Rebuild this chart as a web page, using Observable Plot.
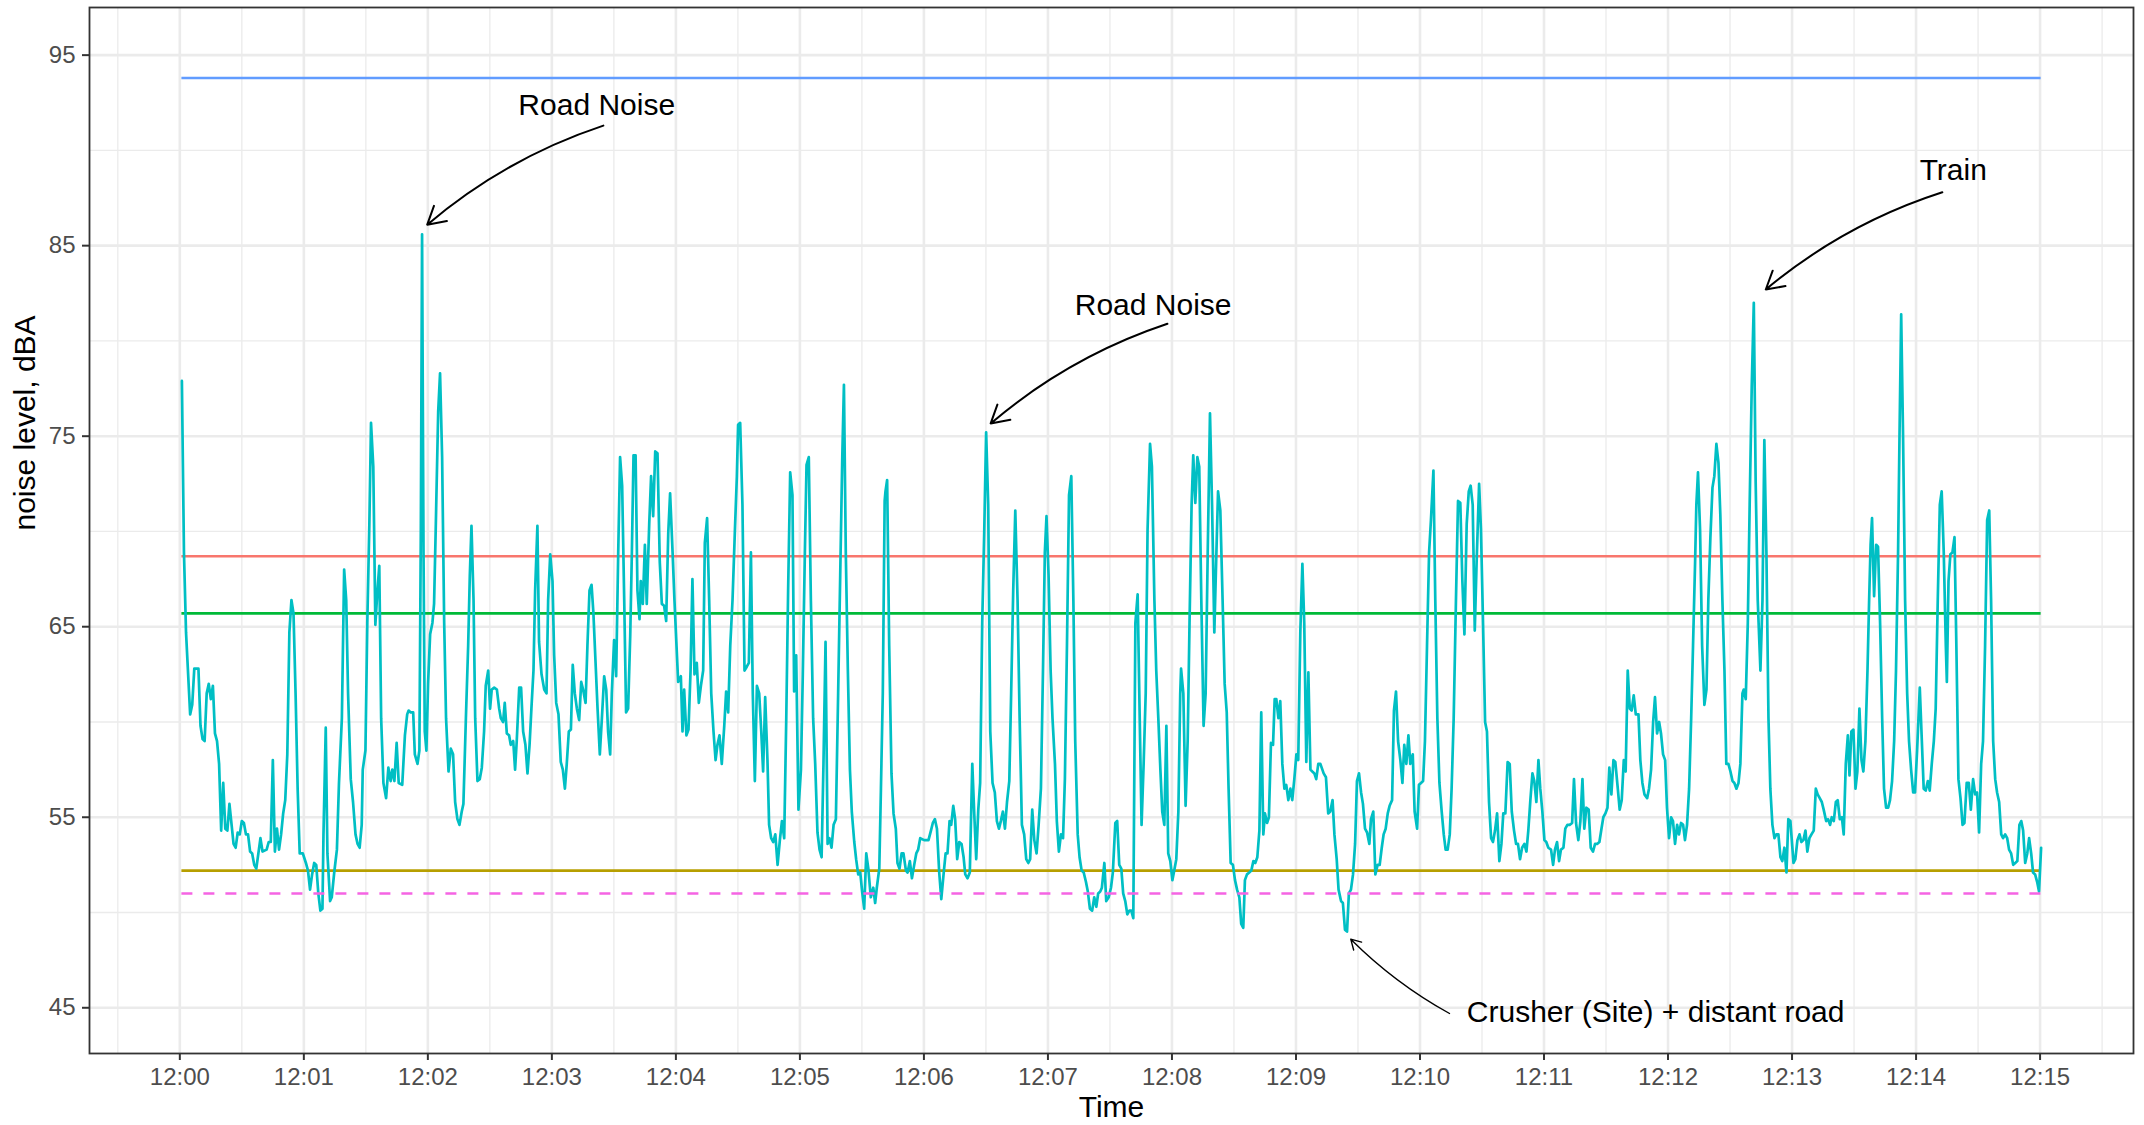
<!DOCTYPE html>
<html>
<head>
<meta charset="utf-8">
<script src="https://cdn.jsdelivr.net/npm/d3@7"></script>
<script src="https://cdn.jsdelivr.net/npm/@observablehq/plot@0.6"></script>
<style>
  html, body { margin: 0; padding: 0; background: #ffffff; }
  #chart svg { display: block; }
</style>
</head>
<body>
<div id="chart"></div>
<script>
// ---- data: seconds after 12:00:00 and measured noise level (dBA) ----
const secs = [
1,2,3,5,6,7,9,10,11,12,13,14,15,16,17,18,19,20,21,22,23,24,26,27,28,29,30,31,32,33,34,35,36,37,39,40,42,43,44,45,46,47,48,49,50,51,52,53,54,55,56,57,58,59.5,61,62,63,64,65,66,67,68,69,69.5,70.6,71.4,72.7,73.5,74.7,76,77,78.4,79.5,80.5,81.4,82.7,83.8,85,86,87,88,88.5,89.8,90.7,91.7,92.5,93.6,94.6,95.6,96.5,97.4,98.5,99.8,100.9,102,102.8,103.8,104.9,105.9,107.6,108.9,110,110.7,
111.7,112.9,113.7,115,115.9,116.6,117.2,117.9,118.5,119.3,120.1,121.1,122.2,123,123.8,125,125.9,126.9,127.9,128.8,130,131.1,132.2,133.2,134.3,135.3,136.4,137.2,138.4,139.5,140.3,141.1,142.1,142.9,144,145.1,146.1,147.2,148,149.2,150.1,150.9,152.1,153.4,154.5,155.3,156.4,157.2,158.2,159.3,160.1,161.3,162.2,163,164.2,165.1,166.1,167.2,168.2,169.2,170.1,171.1,171.9,173,173.8,175,176.3,177.4,178.2,179.2,180.3,181.1,182.1,183.2,184.3,185.3,186.3,187.2,188.2,189.2,190.1,191.1,192.1,193.2,194.2,195.1,196.3,197.2,198.2,199.2,200.1,201.1,202.1,203.2,204.2,205.3,206.3,207.2,208.2,209,210.1,211.1,212.1,213,214,215,215.9,216.9,217.9,218.7,219.5,220.5,221.4,222.4,223,
224,225,225.9,227.1,228,229,230,231.1,232.2,233.2,234.3,235.3,236.3,237.2,238.4,239.3,240.3,241.1,242.4,243.2,244,245.1,246.1,247.1,248,249,250.1,251.1,252.1,253.2,254,255.1,256.1,257.1,258.2,259.2,260.1,261.1,262.2,263.4,264.3,265.3,266.3,267.4,268.5,269.5,270.1,271.1,272.2,273.2,274.3,275.3,276.3,277.2,278.2,279.2,280.3,281.3,282.2,283.2,284.3,285.1,286.1,287.1,288.1,289.2,290.3,291.3,292.4,293.4,294.3,295.3,296.4,297.2,298.2,299.3,300.5,301.4,302.4,303.2,304.3,305.3,306.4,307.4,308.5,309.5,310.5,311.4,312.4,313.4,314.3,315.3,316.3,317.4,318.5,319.5,320.5,321.3,322.2,323.2,324.2,325.1,326.3,327.2,328.2,329.2,330.1,331.1,332.1,333.1,
334.3,335.5,336.4,337.2,338.4,339.2,340.1,341,341.4,342.2,343.2,344.3,345.3,346.4,347.2,348.2,349.2,350.1,351.3,352.1,353.2,354.2,355.3,356.3,357.2,358.2,360.1,362.2,363.4,364.3,365.3,366.3,367.4,368.4,369.5,370.5,371.4,372.4,373.2,374.2,375.1,376.1,377.1,378.2,379.2,380,381.1,382.2,383.4,384.3,385.3,386.3,387.2,388.2,389.2,390.1,391.1,392.1,393.2,394.3,395.3,396.3,397.2,398.2,399.2,400.2,401.3,402.2,403.2,404.2,405.3,406.3,407.4,408.5,409.5,410.5,411.4,412.4,413.4,414.5,415.5,416.6,417.6,418.5,419.3,420.3,421.3,422.2,423.4,424.3,425.3,426.3,427.3,428.2,429.2,430.2,431.3,432.3,433.2,434.4,435.3,436.3,437.3,438.4,439.3,440.3,441.4,442.4,443.4,444.3,445.3,
446.1,447.3,448.2,449.4,450.5,451.4,452.6,453.5,454.5,455.5,456.4,457.4,458.4,459.4,460.3,461.3,462.3,463.4,464.4,465.3,466.3,467.3,468.2,469.4,470.3,471.5,472.4,473.4,474.4,475.3,476.3,477.3,478.2,479.2,480.2,481.1,482.1,483.1,484,484.4,485.5,486.6,487.6,488.5,489.5,490.3,491.3,492.3,493.2,494.2,495.3,496.3,497.3,498.4,499.4,500.5,501.5,502.3,503.4,504.5,505.5,506.5,507.4,508.4,509.5,510.5,511.5,512.6,513.5,514.5,515.3,516.3,517.4,518.4,519.4,520.3,521.3,522.3,523.2,524.2,525,526,526.9,527.9,528.9,529.7,530.5,531.5,532.4,533.4,534.4,535.3,536.3,537.3,538.2,539.2,540.2,541.1,542.1,543.1,544,545,546,547,547.9,548.9,549.8,550.8,551.8,
553.4,554.5,555.6,556.6,557.7,558.6,559.7,560.6,561.8,562.7,563.7,564.7,565.6,566.6,567.6,568.6,569.5,570.5,571.5,572.4,573.4,574.4,575.5,576.3,577.4,578.4,579.5,580.5,581.5,582.4,583.4,584.4,585.3,586.5,587.4,588.4,589.4,590.5,591.5,592.4,593.4,594.4,595.3,596.5,597.4,598.6,599.5,600.5,601.5,602.4,603.4,604.4,605.3,606.5,607.4,608.4,609.4,610.5,611.5,612.4,613.4,614.4,615.3,616.3,617.4,618.4,619.5,620.5,621.5,622.6,623.6,624.5,625.5,626.5,627.4,628.6,629.5,630.5,631.5,632.4,633.4,634.4,635.3,636.3,637.3,638.4,639.4,640.3,641.3,642.4,643.4,644.4,645.5,646.5,647.4,648.4,649.4,650.5,651.5,652.4,653.4,654.4,655.3,656.3,657.3,658.2,659.2,660.2,661.1,662.1,663.4,664.4,665.3,666.3,667.3,668.2,
669.4,670.3,671.3,672.4,673.6,674.5,675.5,676.6,677.6,678.6,679.5,680.5,681.6,682.6,683.7,684.7,685.7,686.8,687.8,688.7,689.7,690.7,691.6,692.6,693.6,694.5,695.7,696.6,697.6,698.6,699.5,700.5,701.5,702.4,703.4,704.4,705.7,706.6,707.6,708.6,709.9,710.8,711.8,712.8,713.7,714.7,715.7,716.6,717.6,718.6,719.5,720.5,721.5,722.4,723.4,724.4,725.3,726.3,727.3,728.2,729.2,730.2,731.2,732.1,733.1,733.7,734.5,735.5,736.5,737.6,738.6,739.5,740.5,741.5,742.4,743.4,744.4,745.3,746.3,747.3,748.2,749.2,750.2,751.2,752.1,753.1,754.1,755,756,756.6,757.6,758.6,759.5,760.5,761.5,762.4,763.4,764.7,765.7,766.6,767.6,768.6,769.5,770.5,771.5,772.4,773.4,774.4,775.3,776.3,777.3,778.2,779.2,
780.7,781.6,782.6,783.6,784.5,785.5,786.5,787.4,788.4,789.4,790.5,791.5,792.4,793.4,794.4,795.3,796.5,797.4,798.4,799.2,800.2,801.2,802.1,803.1,804.1,805,806,807,807.8,808.7,809.7,810.7,811.6,812.6,813.6,814.5,815.5,816.5,817.3,818,818.7,819.7,820.7,821.6,822.6,823.6,824.5,825.5,826.5,827.4,828.4,829.4,830.3,831.3,832,832.8,833.7,834.7,835.7,836.6,837.6,838.6,839.5,840.5,841.8,842.8,843.7,844.7,845.7,846.6,847.6,848.6,849.5,850.5,851.5,852.4,853.4,854.4,854.9,855.7,856.6,857.6,858.6,859.5,860.5,861.5,862.5,863.4,864.5,865.5,866.5,867.6,868.6,869.5,870.5,871.5,872.4,873.4,874.4,875.4,876.3,877.3,878.3,879.2,880.2,881.2,882.1,883.1,884.1,885,886,887,888,889,890,890.9,891.8,892.8,893.8,894.7,895.7,896.6,897.6,898.6,899.5,900.5
];
const dba = [
77.9,68.9,64.7,60.4,60.9,62.8,62.8,59.8,59.1,59.0,61.5,62.0,61.2,61.9,59.4,59.0,57.8,54.3,56.8,54.4,54.3,55.7,53.6,53.4,54.2,54.1,54.8,54.7,54.1,54.1,53.2,53.1,52.5,52.3,53.9,53.2,53.3,53.7,53.7,58.0,53.2,54.4,53.3,54.1,55.2,55.9,58.3,64.7,66.4,65.7,61.5,56.5,53.1,53.1,52.6,52.2,51.2,52.0,52.6,52.5,51.0,50.1,50.2,54.1,59.7,53.1,50.6,50.8,52.1,53.3,56.8,60.2,68.0,66.4,61.5,57.0,55.8,54.1,53.6,53.4,54.6,57.5,58.5,65.2,70.4,75.7,73.4,65.1,66.9,68.2,60.2,56.8,56.0,57.6,56.9,57.5,56.9,58.9,56.8,56.7,59.3,60.4,60.6,
60.5,60.5,58.3,57.8,58.5,70.1,85.6,68.9,59.5,58.5,62.0,64.6,65.2,66.2,70.1,76.3,78.3,73.9,65.2,60.2,57.4,58.6,58.3,55.8,54.9,54.6,55.3,55.7,60.2,64.0,67.7,70.3,66.4,60.2,56.9,57.0,57.6,59.5,61.9,62.7,60.7,61.7,61.8,61.7,60.7,60.2,60.0,61.0,59.4,59.3,58.8,59.0,57.5,59.0,61.8,61.8,59.5,58.8,57.3,58.8,60.7,62.7,66.9,70.3,64.2,62.5,61.7,61.5,66.4,68.8,67.4,63.5,61.0,60.4,57.9,57.5,56.5,57.8,59.5,59.6,63.0,61.5,60.7,60.1,62.1,61.7,61.0,64.0,66.9,67.2,65.7,63.2,60.7,58.3,60.2,62.4,61.7,59.5,58.3,61.5,64.3,62.4,68.9,73.9,72.4,66.4,60.5,60.7,64.5,68.9,74.0,74.0,66.9,65.4,67.4,
66.2,69.3,66.2,70.4,72.9,70.8,74.2,74.1,68.4,66.2,66.1,65.3,69.9,72.0,68.9,66.4,64.0,62.1,62.4,59.5,61.7,59.3,59.6,62.7,67.5,62.5,63.1,61.0,61.9,62.7,69.4,70.7,66.4,61.5,59.5,58.0,58.8,59.3,57.8,59.8,61.6,60.5,64.0,66.4,69.9,72.9,75.6,75.7,71.4,62.7,62.9,63.1,68.9,61.5,56.9,61.9,61.5,59.5,57.4,61.3,58.0,54.6,53.9,53.7,54.1,52.5,53.8,54.8,53.9,60.2,66.9,73.1,71.9,61.6,63.5,55.4,57.5,62.5,68.9,73.5,73.9,66.4,60.2,57.8,54.2,53.3,52.9,57.8,64.2,53.6,53.9,53.4,54.6,54.9,61.5,67.7,73.9,77.7,68.9,62.7,57.5,55.3,53.7,52.8,52.0,52.1,51.1,50.2,53.1,52.3,
50.8,51.3,50.5,51.3,52.3,56.5,61.5,71.6,72.1,72.7,64.0,57.3,55.2,54.4,52.6,52.3,53.1,53.1,52.2,52.1,52.7,51.8,52.5,53.1,53.3,53.9,53.8,53.8,54.3,54.7,54.9,54.4,52.1,50.7,52.0,53.1,53.1,54.8,54.6,55.6,54.9,52.8,53.7,53.6,52.9,52.0,51.8,52.1,57.8,55.3,52.8,55.4,56.8,65.2,70.1,75.2,71.4,59.5,56.8,56.3,54.8,54.4,54.8,55.3,54.4,55.8,56.9,61.5,66.9,71.1,66.4,60.2,54.6,54.1,52.8,52.6,52.8,55.4,53.8,53.1,54.6,56.5,62.7,68.9,70.8,67.7,62.7,60.2,57.8,54.8,53.2,54.1,53.9,57.0,64.0,71.9,72.9,66.4,59.0,54.1,52.9,52.2,52.1,51.6,51.1,50.2,50.1,50.8,50.3,51.0,51.1,
51.3,52.6,50.6,50.8,51.3,52.1,54.7,54.8,52.5,52.3,51.0,50.6,49.9,50.1,50.1,49.7,65.2,66.7,60.2,54.6,57.8,61.5,70.1,74.6,73.4,66.4,62.7,60.2,57.5,55.3,54.6,59.8,53.1,52.7,51.7,52.2,52.8,55.3,61.5,62.8,61.5,55.6,59.0,65.2,71.4,74.0,71.5,73.9,73.4,66.4,59.8,61.5,68.9,76.2,71.4,64.7,68.9,72.1,71.1,66.4,62.0,60.5,56.5,52.6,52.5,51.7,51.2,50.8,49.4,49.2,51.7,52.0,52.1,52.2,52.7,52.6,52.9,54.3,60.5,54.1,55.2,54.7,55.0,58.9,58.8,61.2,61.2,60.2,61.1,57.8,56.5,56.7,55.9,56.5,55.9,57.0,58.3,58.0,64.7,68.3,65.2,57.9,62.6,57.5,57.4,57.3,57.0,57.8,57.8,
57.3,57.1,55.2,55.3,55.9,54.1,52.8,51.2,50.6,50.5,49.1,49.0,51.0,51.2,52.0,53.6,56.9,57.3,56.3,55.7,54.4,54.2,53.6,54.9,55.3,52.0,52.5,52.5,53.4,54.1,54.4,55.2,55.6,55.9,60.6,61.6,59.0,58.0,56.8,58.8,57.8,59.3,57.8,58.3,55.3,54.4,56.7,56.8,56.9,59.0,64.0,68.9,70.6,73.2,66.4,60.2,56.8,55.3,54.1,53.3,53.3,54.1,56.5,60.2,66.4,71.6,71.5,67.4,64.6,70.4,72.1,72.4,71.4,64.8,68.4,72.5,70.1,65.2,60.0,59.5,55.8,53.9,53.7,54.3,55.2,52.7,53.6,55.2,55.2,57.9,57.8,55.3,54.3,53.6,53.6,52.8,53.4,53.6,53.2,54.3,55.9,57.3,56.9,55.8,58.0,56.5,55.3,53.8,53.7,53.4,53.3,52.5,53.3,53.7,52.7,53.3,
53.4,54.4,54.6,54.6,54.7,57.0,54.7,53.8,54.8,57.0,54.4,55.5,55.4,53.4,53.2,53.6,53.6,53.7,54.4,55.0,55.2,55.5,57.6,56.2,58.0,57.9,56.5,55.4,55.9,58.0,57.4,62.7,60.7,60.6,61.4,60.4,60.4,58.0,56.8,56.2,56.0,56.5,57.5,60.0,61.3,59.4,60.0,59.4,58.3,58.0,55.5,53.9,55.0,54.8,53.6,54.6,54.1,54.7,54.6,53.8,54.6,56.5,60.2,64.0,68.4,71.4,73.1,70.1,64.0,60.9,61.7,66.4,69.7,72.3,72.9,74.6,73.6,70.9,66.4,62.7,57.8,57.8,57.4,56.9,56.8,56.5,56.8,57.8,61.5,61.7,61.2,65.2,71.4,77.6,82.0,72.6,66.4,62.7,66.4,74.8,68.9,60.2,56.5,54.6,53.9,54.1,54.1,52.9,52.7,53.4,52.1,54.9,54.8,
52.6,52.8,53.8,54.1,53.7,53.8,54.3,53.2,53.9,54.1,54.3,56.5,56.2,56.0,55.8,55.4,54.8,54.9,54.6,55.0,54.8,55.8,55.9,54.9,55.0,54.1,57.8,59.3,57.2,59.5,59.6,56.5,57.4,60.7,58.0,57.4,59.0,62.7,66.4,69.3,70.7,66.6,69.3,69.2,65.2,60.2,56.5,55.5,55.5,55.9,56.9,59.0,62.7,68.9,75.1,81.4,75.1,66.4,61.5,59.0,57.5,56.3,56.3,58.5,61.8,59.0,56.5,56.4,56.9,56.4,57.8,59.0,60.7,66.4,71.4,72.1,68.9,64.0,62.1,67.4,68.8,68.9,69.7,64.0,57.0,56.0,54.6,54.7,56.8,56.8,55.4,57.0,56.2,56.3,54.2,57.8,59.0,64.0,70.6,71.1,66.4,59.0,57.0,56.3,55.8,54.1,53.9,54.1,53.9,53.3,53.1,52.5,52.6,52.7,54.6,54.8,54.3,52.6,53.1,53.9,53.1,52.1,52.0,51.6,51.1,53.4
];

// reference levels drawn as horizontal lines across the measurement period
const refNames  = ["L10", "L90", "Leq", "Lmax", "RBL"];
const refLevels = [68.7, 52.2, 65.7, 93.8, 51.0];

// axis ticks
const majorMinutes = d3.range(0, 16);          // 12:00 ... 12:15
const minorMinutes = d3.range(-1, 16);          // half-minute grid
const majorDba = [45, 55, 65, 75, 85, 95];
const minorDba = [50, 60, 70, 80, 90];

// annotations
const noteLabels   = ["Road Noise", "Road Noise", "Train", "Crusher (Site) + distant road"];
const noteSec      = [201.7, 470.9, 858.0, 714.0];
const noteDba      = [92.35, 81.86, 88.96, 44.74];
const arrowFromSec = [204.9, 477.8, 852.7, 614.3];
const arrowFromDba = [91.3, 80.9, 87.8, 44.7];
const arrowToSec   = [119.7, 392.3, 767.3, 566.5];
const arrowToDba   = [86.1, 75.67, 82.7, 48.6];

// ---- build ----
const base = Date.UTC(2021, 0, 1, 12, 0, 0);
const at = s => new Date(base + s * 1000);

const series = secs.map((s, i) => ({time: at(s), dba: dba[i]}));
const tStart = at(secs[0]), tEnd = at(secs[secs.length - 1]);
const refs = refNames.map((n, i) => ({name: n, level: refLevels[i]}));
const notes = noteLabels.map((l, i) => ({
  label: l, time: at(noteSec[i]), dba: noteDba[i],
  x1: at(arrowFromSec[i]), y1: arrowFromDba[i],
  x2: at(arrowToSec[i]), y2: arrowToDba[i]
}));

const refColor = {L10: "#F8766D", L90: "#B79F00", Leq: "#00BA38", Lmax: "#619CFF", RBL: "#F564E3"};
const font = "'Liberation Sans', Arial, Helvetica, sans-serif";

const chart = Plot.plot({
  width: 2144,
  height: 1125,
  marginLeft: 89,
  marginRight: 11,
  marginTop: 7,
  marginBottom: 72,
  style: {fontFamily: font, background: "#ffffff", color: "#000000"},
  x: {type: "utc", domain: [at(-43.7), at(945.2)]},
  y: {domain: [42.6, 97.5]},
  marks: [
    // grid
    Plot.ruleX(minorMinutes.map(m => at(m * 60 + 30)), {stroke: "#EBEBEB", strokeWidth: 1.3}),
    Plot.ruleY(minorDba, {stroke: "#EBEBEB", strokeWidth: 1.3}),
    Plot.ruleX(majorMinutes.map(m => at(m * 60)), {stroke: "#EBEBEB", strokeWidth: 2.6}),
    Plot.ruleY(majorDba, {stroke: "#EBEBEB", strokeWidth: 2.6}),
    // reference lines below the measurement
    Plot.ruleY(refs.filter(d => ["L10", "L90", "Leq"].includes(d.name)), {
      y: "level", x1: () => tStart, x2: () => tEnd,
      stroke: d => refColor[d.name], strokeWidth: 2.6
    }),
    // measured level
    Plot.line(series, {x: "time", y: "dba", stroke: "#00BFC4", strokeWidth: 2.7, strokeLinejoin: "round"}),
    // reference lines above
    Plot.ruleY(refs.filter(d => d.name === "Lmax"), {
      y: "level", x1: () => tStart, x2: () => tEnd,
      stroke: d => refColor[d.name], strokeWidth: 2.6
    }),
    Plot.ruleY(refs.filter(d => d.name === "RBL"), {
      y: "level", x1: () => tStart, x2: () => tEnd,
      stroke: d => refColor[d.name], strokeWidth: 2.6, strokeDasharray: "11,11"
    }),
    // annotations
    Plot.arrow(notes.slice(0, 3), {
      x1: "x1", y1: "y1", x2: "x2", y2: "y2", bend: -11,
      stroke: "#000000", strokeWidth: 2, headLength: 15, headAngle: 60
    }),
    Plot.arrow(notes.slice(3), {
      x1: "x1", y1: "y1", x2: "x2", y2: "y2", bend: 8,
      stroke: "#000000", strokeWidth: 1.4, headLength: 12, headAngle: 60
    }),
    Plot.text(notes, {
      x: "time", y: "dba", text: "label", fontSize: 30, fill: "#000000",
      textAnchor: "middle", lineAnchor: "middle"
    }),
    // axes
    Plot.axisX(majorMinutes.map(m => at(m * 60)), {
      tickFormat: d3.utcFormat("%H:%M"), tickSize: 7, tickPadding: 7,
      fontSize: 24, stroke: "#333333", fill: "#4D4D4D", strokeWidth: 2, label: null
    }),
    Plot.axisY(majorDba, {
      tickSize: 7, tickPadding: 7, fontSize: 24,
      stroke: "#333333", fill: "#4D4D4D", strokeWidth: 2, label: null
    }),
    Plot.text(["Time"], {text: d => d, frameAnchor: "bottom", dy: 54, fontSize: 30, lineAnchor: "middle", fill: "#000000"}),
    Plot.text(["noise level, dBA"], {text: d => d, frameAnchor: "left", dx: -64, rotate: -90, fontSize: 30, lineAnchor: "middle", fill: "#000000"}),
    Plot.frame({stroke: "#333333", strokeWidth: 1.8})
  ]
});

document.getElementById("chart").appendChild(chart);
</script>
</body>
</html>
